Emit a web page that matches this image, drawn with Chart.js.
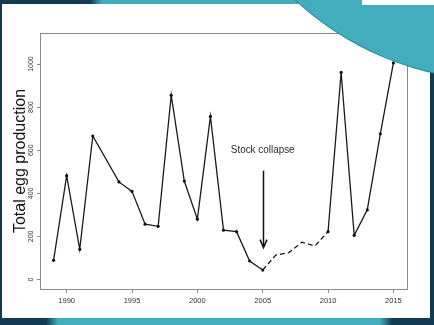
<!DOCTYPE html>
<html>
<head>
<meta charset="utf-8">
<script src="https://cdn.jsdelivr.net/npm/chart.js@4/dist/chart.umd.min.js"></script>
<style>
html,body{margin:0;padding:0;width:434px;height:325px;overflow:hidden;background:#123a50;}
#wrap{position:relative;width:434px;height:325px;overflow:hidden;}
#topband{position:absolute;left:0;top:0;width:434px;height:4px;background:linear-gradient(90deg,#123a50 0,#123a50 90px,#42aebd 102px);}
#botband{position:absolute;left:0;top:318px;width:434px;height:7px;background:linear-gradient(90deg,#123a50 0,#123a50 46px,#42aebd 58px,#42aebd 380px,#123a50 392px);}
#panel{position:absolute;left:2px;top:4px;width:428px;height:314px;background:#fff;}
#c{position:absolute;left:0;top:0;}
#circle{position:absolute;left:200px;top:-520px;width:600px;height:600px;border-radius:50%;background:#42aebd;box-shadow:0 0 0 1px #2b8797;}
#wbox{position:absolute;left:362px;top:0;width:72px;height:5px;background:#fff;}
</style>
</head>
<body>
<div id="wrap">
  <div id="topband"></div>
  <div id="botband"></div>
  <div id="panel"></div>
  <canvas id="c" width="434" height="325"></canvas>
  <div id="circle"></div>
  <div id="wbox"></div>
</div>
<script>
// ---- data ----
const years = [1989,1990,1991,1992,1994,1995,1996,1997,1998,1999,2000,2001,2002,2003,2004,2005,2006,2007,2008,2009,2010,2011,2012,2013,2014,2015];
const eggs  = [89,482,140,666,453,409,257,247,855,457,280,757,229,222,86,44,113,125,173,156,222,961,205,323,676,1005];
const dashedSpan = [2005, 2010];          // years joined by the dashed line
const xTicks = [1990,1995,2000,2005,2010,2015];
const yTicks = [0,200,400,600,800,1000];
const xLimits = [1987.96, 2016.04];
const yLimits = [-44, 1144];
const yTitle = 'Total egg production';
const noteText = 'Stock collapse';
const noteAt = [2005, 600];
const arrowAt = [2005, 505, 148];        // x, from value, to value

const points = years.map((y, i) => ({x: y, y: eggs[i]}));

const boxPlugin = {
  id: 'box',
  beforeDatasetsDraw(chart) {
    const a = chart.chartArea, ctx = chart.ctx;
    ctx.save();
    ctx.strokeStyle = '#8a8a8a';
    ctx.lineWidth = 1;
    ctx.strokeRect(Math.round(a.left) + 0.5, Math.round(a.top) + 0.5, Math.round(a.right - a.left), Math.round(a.bottom - a.top));
    ctx.restore();
  }
};

const notePlugin = {
  id: 'note',
  afterDatasetsDraw(chart) {
    const ctx = chart.ctx, xs = chart.scales.x, ys = chart.scales.y;
    ctx.save();
    ctx.fillStyle = '#2a2a2a';
    ctx.font = '11.5px "Liberation Sans", Arial, sans-serif';
    ctx.textAlign = 'center';
    ctx.textBaseline = 'middle';
    ctx.translate(xs.getPixelForValue(noteAt[0]), ys.getPixelForValue(noteAt[1]));
    ctx.scale(0.86, 1);
    ctx.fillText(noteText, 0, 0);
    ctx.restore();
    ctx.save();
    const ax = Math.round(xs.getPixelForValue(arrowAt[0])) + 0.5;
    const y0 = ys.getPixelForValue(arrowAt[1]);
    const y1 = ys.getPixelForValue(arrowAt[2]);
    ctx.strokeStyle = '#111';
    ctx.lineWidth = 1.5;
    ctx.beginPath();
    ctx.moveTo(ax, y0);
    ctx.lineTo(ax, y1 - 2);
    ctx.stroke();
    ctx.beginPath();
    ctx.moveTo(ax - 3.5, y1 - 8);
    ctx.lineTo(ax, y1);
    ctx.lineTo(ax + 3.5, y1 - 8);
    ctx.stroke();
    ctx.restore();
  }
};

new Chart(document.getElementById('c'), {
  type: 'line',
  data: {
    datasets: [{
      data: points,
      borderColor: '#1a1a1a',
      borderWidth: 1.3,
      backgroundColor: '#111',
      pointBackgroundColor: '#111',
      pointBorderWidth: 0,
      pointRadius: ctx => { const x = ctx.raw ? ctx.raw.x : 0; return (x > dashedSpan[0] && x < dashedSpan[1]) ? 0 : 1.6; },
      tension: 0,
      fill: false,
      segment: {
        borderDash: ctx => (ctx.p0.parsed.x >= dashedSpan[0] && ctx.p1.parsed.x <= dashedSpan[1]) ? [5, 3] : undefined
      }
    }]
  },
  options: {
    responsive: false,
    devicePixelRatio: 1,
    animation: false,
    layout: {padding: {left: 0, top: 33, right: 27, bottom: 0}},
    plugins: {legend: {display: false}, tooltip: {enabled: false}},
    scales: {
      x: {
        type: 'linear',
        position: 'bottom',
        min: xLimits[0], max: xLimits[1],
        afterBuildTicks: s => { s.ticks = xTicks.map(v => ({value: v})); },
        afterFit: s => { s.height = 36; },
        grid: {display: true, drawOnChartArea: false, drawTicks: true, tickLength: 4, color: '#8a8a8a', lineWidth: 1},
        border: {display: false},
        ticks: {autoSkip: false, maxRotation: 0, padding: 3, color: '#333',
                font: {family: '"Liberation Sans", Arial, sans-serif', size: 7.5},
                callback: v => String(v)}
      },
      y: {
        type: 'linear',
        position: 'left',
        min: yLimits[0], max: yLimits[1],
        afterBuildTicks: s => { s.ticks = yTicks.map(v => ({value: v})); },
        afterFit: s => { s.width = 40; },
        grid: {display: true, drawOnChartArea: false, drawTicks: true, tickLength: 3, color: '#8a8a8a', lineWidth: 1},
        border: {display: false},
        ticks: {autoSkip: false, minRotation: 90, maxRotation: 90, crossAlign: 'center', padding: -1.5, color: '#333',
                font: {family: '"Liberation Sans", Arial, sans-serif', size: 7},
                callback: v => String(v)},
        title: {display: true, text: yTitle, color: '#111', padding: {top: 11, bottom: 0},
                font: {family: '"Liberation Sans", Arial, sans-serif', size: 16}}
      }
    }
  },
  plugins: [boxPlugin, notePlugin]
});
</script>
</body>
</html>
